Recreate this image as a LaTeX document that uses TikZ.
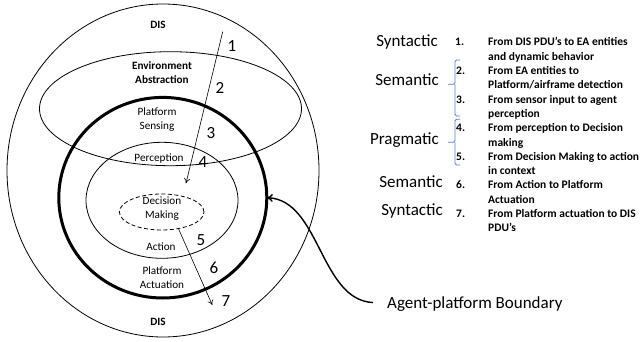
\documentclass[tikz,border=0pt]{standalone}
\usepackage{fontspec}
\setmainfont{Carlito}
\usetikzlibrary{shapes.geometric,arrows.meta}
\definecolor{brk}{RGB}{79,129,189}
\tikzset{
  ring/.style={draw, ellipse, inner sep=0pt, outer sep=0pt, line width=0.8pt},
  lbl/.style={font=\fontsize{11.2}{14}\selectfont, align=center, inner sep=0pt},
  blbl/.style={font=\bfseries\fontsize{11.2}{14}\selectfont, align=center, inner sep=0pt},
  num/.style={font=\fontsize{17}{20}\selectfont, inner sep=0pt},
  cat/.style={font=\fontsize{17}{20}\selectfont, inner sep=0pt, anchor=base east},
  itm/.style={font=\bfseries\fontsize{11.5}{14}\selectfont, inner sep=0pt, anchor=base west},
  flow/.style={-{To[length=5pt,width=6pt]}, line width=0.6pt},
  bracket/.style={draw=brk, line width=0.8pt, rounded corners=1.5pt}
}
\begin{document}
\begin{tikzpicture}[x=1pt,y=-1pt]
\useasboundingbox (0,0) rectangle (640,342);
% rings
\node[ring, minimum width=312pt, minimum height=333pt] (dis) at (163,170.5) {};
\node[ring, minimum width=262pt, minimum height=114pt] (env) at (170.5,108.7) {};
\node[ring, line width=3pt, minimum width=208pt, minimum height=200.6pt] (bnd) at (162.8,197.7) {};
\node[ring, minimum width=152pt, minimum height=116pt] (perc) at (162,200.3) {};
\node[ring, dashed, dash pattern=on 4pt off 2.5pt, minimum width=84.6pt, minimum height=36pt] (dec) at (161.7,212) {};
% labels
\node[blbl] (distop) at (158,25) {DIS};
\node[blbl] (envl) at (162,73) {Environment\\Abstraction};
\node[lbl] (sens) at (157,120) {Platform\\Sensing};
\node[lbl] (percl) at (159,159) {Perception};
\node[lbl] (decl) at (162,208.5) {Decision\\Making};
\node[lbl] (act) at (161,247) {Action};
\node[lbl] (actu) at (162,278) {Platform\\Actuation};
\node[blbl] (disbot) at (158,322) {DIS};
% numbers
\node[num] (n1) at (232,46) {1};
\node[num] (n2) at (220,88) {2};
\node[num] (n3) at (211,133) {3};
\node[num] (n4) at (203,162) {4};
\node[num] (n5) at (201,240) {5};
\node[num] (n6) at (214,268) {6};
\node[num] (n7) at (226,301) {7};
% flow arrows
\coordinate (a1s) at (222.7,31.7);
\coordinate (a1e) at (186,183.3);
\coordinate (a2s) at (178.3,228.3);
\coordinate (a2e) at (212.3,305);
\draw[flow] (a1s) -- (a1e);
\draw[flow] (a2s) -- (a2e);
% boundary label
\node[font=\fontsize{17}{20}\selectfont, inner sep=0pt, anchor=base west] (agent) at (387,308) {Agent-platform Boundary};
\draw[-{To[length=6pt,width=8pt]}, line width=1.4pt] ([xshift=-14pt,yshift=1pt]agent.west) .. controls (320,300) and (320,200) .. (bnd.east);
% categories
\node[cat] (c1) at (438,47) {Syntactic};
\node[cat] (c2) at (439,86) {Semantic};
\node[cat] (c3) at (439,145) {Pragmatic};
\node[cat] (c4) at (443,187) {Semantic};
\node[cat] (c5) at (443,215) {Syntactic};
% brackets
\draw[bracket] (460,60) -- (455,60) -- (455,84.3) -- (448,84.3) (455,84.3) -- (455,116) -- (460,116);
\draw[bracket] (460,119.3) -- (455,119.3) -- (455,142.3) -- (448,142.3) (455,142.3) -- (455,165) -- (460,165);
% list
\node[itm] (i1n) at (455,46) {1.};
\node[itm] (i1a) at (488,46) {From DIS PDU’s to EA entities};
\node[itm] (i1b) at (488,60.3) {and dynamic behavior};
\node[itm] (i2n) at (456,74.6) {2.};
\node[itm] (i2a) at (488,74.6) {From EA entities to};
\node[itm] (i2b) at (488,88.9) {Platform/airframe detection};
\node[itm] (i3n) at (456,103.2) {3.};
\node[itm] (i3a) at (488,103.2) {From sensor input to agent};
\node[itm] (i3b) at (488,117.5) {perception};
\node[itm] (i4n) at (456,131.8) {4.};
\node[itm] (i4a) at (488,131.8) {From perception to Decision};
\node[itm] (i4b) at (488,146.1) {making};
\node[itm] (i5n) at (456,160.4) {5.};
\node[itm] (i5a) at (488,160.4) {From Decision Making to action};
\node[itm] (i5b) at (488,174.7) {in context};
\node[itm] (i6n) at (456,189) {6.};
\node[itm] (i6a) at (488,189) {From Action to Platform};
\node[itm] (i6b) at (488,203.3) {Actuation};
\node[itm] (i7n) at (456,217.6) {7.};
\node[itm] (i7a) at (488,217.6) {From Platform actuation to DIS};
\node[itm] (i7b) at (488,231.9) {PDU’s};
\end{tikzpicture}
\end{document}
